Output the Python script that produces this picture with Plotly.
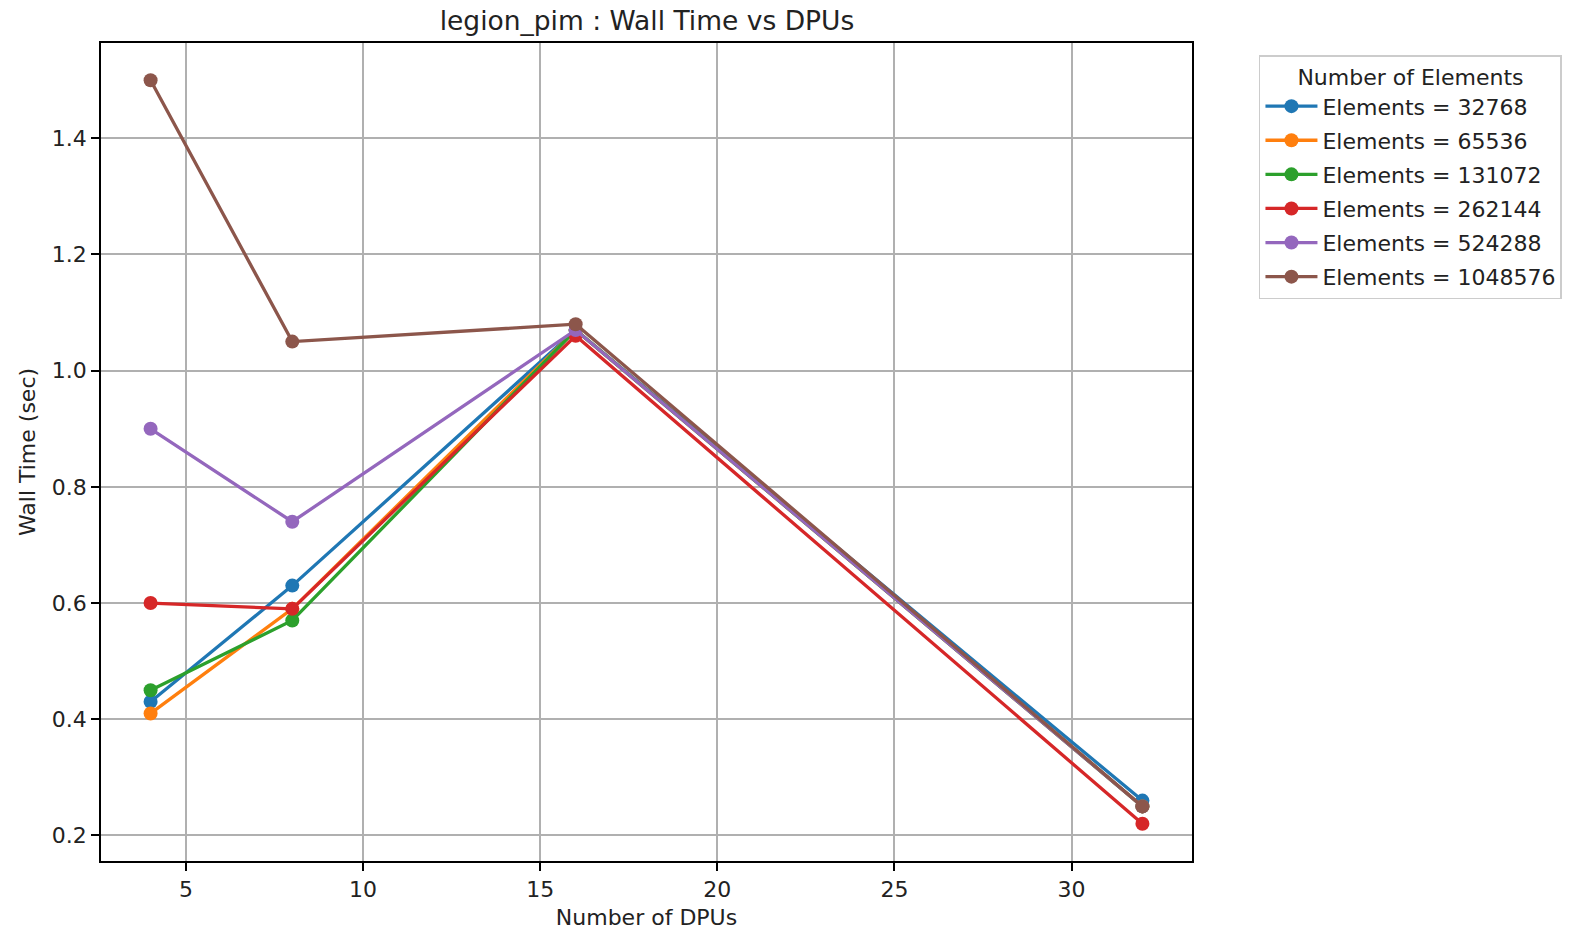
import plotly.graph_objects as go

dpus = [4, 8, 16, 32]
series_names = ["Elements = 32768", "Elements = 65536", "Elements = 131072",
                "Elements = 262144", "Elements = 524288", "Elements = 1048576"]
wall_32768 = [0.43, 0.63, 1.07, 0.26]
wall_65536 = [0.41, 0.59, 1.07, 0.25]
wall_131072 = [0.45, 0.57, 1.07, 0.25]
wall_262144 = [0.60, 0.59, 1.06, 0.22]
wall_524288 = [0.90, 0.74, 1.07, 0.25]
wall_1048576 = [1.50, 1.05, 1.08, 0.25]
all_values = [wall_32768, wall_65536, wall_131072, wall_262144, wall_524288, wall_1048576]
colors = ["#1f77b4", "#ff7f0e", "#2ca02c", "#d62728", "#9467bd", "#8c564b"]

FONT = "DejaVu Sans"

fig = go.Figure()
for i, (name, vals, c) in enumerate(zip(series_names, all_values, colors)):
    fig.add_trace(go.Scatter(
        x=dpus, y=vals, name=name, mode="lines+markers", legendgroup=f"g{i}",
        line=dict(color=c, width=3.3),
        marker=dict(color=c, size=14, line=dict(width=0)),
    ))

axis_common = dict(
    showline=True, linecolor="black", linewidth=1.8, mirror=True,
    showgrid=True, gridcolor="#b0b0b0", gridwidth=1.8,
    ticks="outside", ticklen=8, tickwidth=1.8, tickcolor="black",
    zeroline=False, automargin=False,
    tickfont=dict(family=FONT, size=22, color="#222"),
    title_font=dict(family=FONT, size=22, color="#222"),
)

fig.update_layout(
    width=1573, height=930,
    paper_bgcolor="white", plot_bgcolor="white",
    margin=dict(l=101, r=380, t=43, b=69),
    title=dict(text="legion_pim : Wall Time vs DPUs", x=0.4113, xanchor="center",
               y=0.978, yanchor="middle",
               font=dict(family=FONT, size=26.5, color="#222")),
    xaxis=dict(range=[2.6, 33.4], tickvals=[5, 10, 15, 20, 25, 30],
               title=dict(text="Number of DPUs", standoff=10), **axis_common),
    yaxis=dict(range=[0.156, 1.564], tickvals=[0.2, 0.4, 0.6, 0.8, 1.0, 1.2, 1.4],
               tickformat=".1f",
               title=dict(text="Wall Time (sec)", standoff=10), **axis_common),
    legend=dict(
        x=1.0604, y=0.985, xanchor="left", yanchor="top",
        bordercolor="#cccccc", borderwidth=1.5, bgcolor="white",
        font=dict(family=FONT, size=22, color="#222"),
        title=dict(text="Number of Elements", side="top center",
                   font=dict(family=FONT, size=22, color="#222")),
        itemwidth=52, tracegroupgap=2.5,
    ),
)

fig.write_html("out.html", config={"displayModeBar": False},
               post_script="document.body.style.margin='0';")
